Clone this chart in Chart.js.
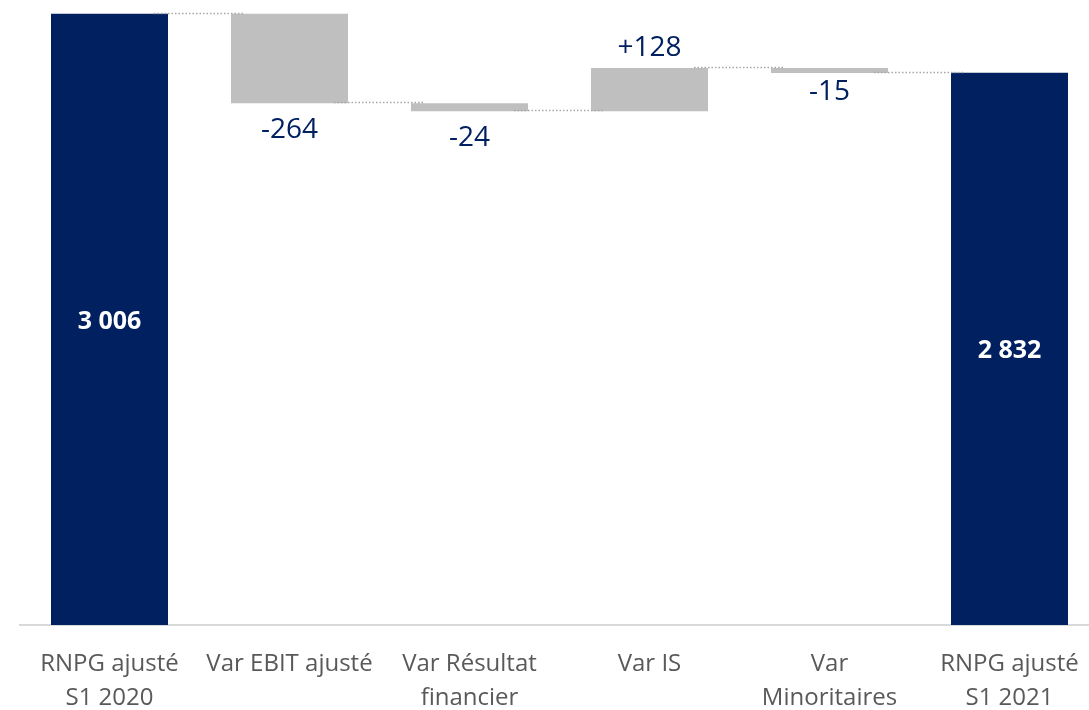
<!DOCTYPE html>
<html>
<head>
<meta charset="utf-8">
<script src="https://cdn.jsdelivr.net/npm/chart.js@4.4.1/dist/chart.umd.min.js"></script>
<style>
html,body{margin:0;padding:0;background:#fff;overflow:hidden;}
#wrap{width:1100px;height:710px;}
</style>
</head>
<body>
<div id="wrap"><canvas id="c" width="1100" height="710"></canvas></div>
<script>
// ---- data ----
const categories = [["RNPG ajusté","S1 2020"],["Var EBIT ajusté"],["Var Résultat","financier"],["Var IS"],["Var","Minoritaires"],["RNPG ajusté","S1 2021"]];
const values = [3006, -264, -24, 128, -15, 2832];
const isTotal = [true, false, false, false, false, true];
const valueLabels = ["3 006", "-264", "-24", "+128", "-15", "2 832"];

// ---- build floating ranges from data ----
const ranges = [];
const levels = [];
let run = 0;
values.forEach((v, i) => {
  if (isTotal[i]) { ranges.push([0, v]); run = v; }
  else { ranges.push([run, run + v]); run = run + v; }
  levels.push(run);
});

const NAVY = '#002060';
const GREY = '#BFBFBF';
const labelOffsets = [0, 27, 27, -20, 19, 0];

const connectorPlugin = {
  id: 'connectors',
  afterDatasetsDraw(chart) {
    const ctx = chart.ctx;
    const meta = chart.getDatasetMeta(0);
    const ys = chart.scales.y;
    ctx.save();
    ctx.strokeStyle = '#A6A6A6';
    ctx.lineWidth = 1.3;
    ctx.setLineDash([1.5, 2]);
    for (let i = 0; i < meta.data.length - 1; i++) {
      const a = meta.data[i], b = meta.data[i + 1];
      const y = Math.round(ys.getPixelForValue(levels[i])) - 0.5;
      ctx.beginPath();
      ctx.moveTo(a.x + a.width / 2 - 14, y);
      ctx.lineTo(b.x - b.width / 2 + 12, y);
      ctx.stroke();
    }
    ctx.restore();
  }
};

const labelPlugin = {
  id: 'valueLabels',
  afterDatasetsDraw(chart) {
    const ctx = chart.ctx;
    const meta = chart.getDatasetMeta(0);
    const area = chart.chartArea;
    ctx.save();
    ctx.textAlign = 'center';
    ctx.textBaseline = 'middle';
    meta.data.forEach((bar, i) => {
      if (isTotal[i]) {
        ctx.font = 'bold 25px "Open Sans"';
        ctx.fillStyle = '#FFFFFF';
        const top = bar.y;
        const bottom = Math.min(bar.base, area.bottom);
        ctx.fillText(valueLabels[i], bar.x, (top + bottom) / 2 + 2);
      } else {
        ctx.font = '28px "Open Sans"';
        ctx.fillStyle = NAVY;
        const top = Math.min(bar.y, bar.base);
        const bottom = Math.max(bar.y, bar.base);
        const y = values[i] < 0 ? bottom + labelOffsets[i] : top + labelOffsets[i];
        ctx.fillText(valueLabels[i], bar.x, y);
      }
    });
    ctx.restore();
  }
};

new Chart(document.getElementById('c'), {
  type: 'bar',
  data: {
    labels: categories,
    datasets: [{
      data: ranges,
      backgroundColor: isTotal.map(t => t ? NAVY : GREY),
      borderWidth: 0,
      categoryPercentage: 1,
      barPercentage: 0.65
    }]
  },
  options: {
    responsive: false,
    animation: false,
    layout: { padding: { left: 19.5, right: 0.5, top: 0, bottom: 0 } },
    plugins: { legend: { display: false }, tooltip: { enabled: false } },
    scales: {
      x: {
        grid: { display: false },
        border: { display: true, color: '#D9D9D9', width: 2 },
        ticks: {
          color: '#595959',
          font: { family: '"Open Sans"', size: 24, lineHeight: 1.42 },
          padding: 14,
          maxRotation: 0,
          autoSkip: false
        },
        afterFit(scale) { scale.height = 85; }
      },
      y: {
        display: false,
        min: 1200,
        max: 3047
      }
    }
  },
  plugins: [connectorPlugin, labelPlugin]
});
</script>
</body>
</html>
